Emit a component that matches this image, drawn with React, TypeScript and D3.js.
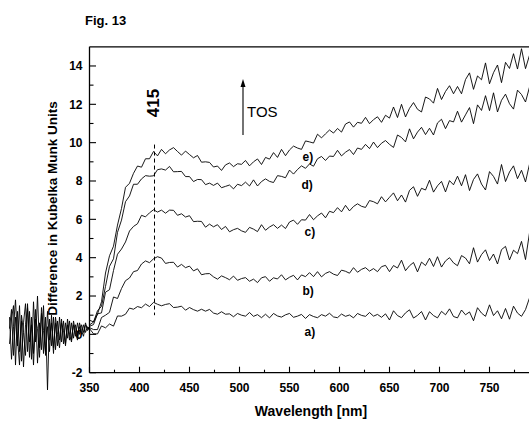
import React from "react";
import * as d3 from "d3";

// Wavelength grids (nm)
const wavelengths: number[] = d3.range(350, 791, 4);
const leftWavelengths: number[] = d3.range(270, 351, 2);

// Noisy baseline region below 350 nm (overlapping traces)
const leftNoiseA: number[] = [
  0.3, 1.3, -1.1, 0.9, -0.6, 1.5, -1.4, 0.6, 1.6, -0.9, 1.2, -1.3, 1.7, -0.4, 2.0, -0.7, 1.1, -1.0, 0.9, -2.9,
  0.8, -0.6, 0.9, -0.8, 0.7, -0.3, 0.8, -0.5, 0.6, -0.2, 0.7, -0.3, 0.5, -0.1, 0.6, 0.0, 0.5, 0.1, 0.6, 0.2, 0.4,
];
const leftNoiseB: number[] = [
  -0.5, 0.8, 1.5, -1.6, 1.2, -0.9, 0.7, -1.7, 0.5, 1.4, -1.2, 0.9, -1.0, 1.3, -1.5, 0.6, -0.8, 1.5, -1.1, 0.4,
  -0.9, 1.0, -0.7, 0.6, -0.6, 0.9, -0.4, 0.7, -0.5, 0.5, -0.3, 0.6, -0.2, 0.5, -0.1, 0.4, 0.0, 0.5, 0.1, 0.4, 0.2,
];
const leftNoiseC: number[] = [
  0.9, -1.3, 0.4, 1.8, -0.2, -1.6, 1.0, 0.1, -1.1, 1.6, -0.4, 0.5, -1.6, 0.8, 0.3, -1.2, 1.4, 0.2, -0.9, 1.2,
  -0.3, 0.6, -1.0, 0.9, 0.0, -0.7, 0.6, 0.2, -0.6, 0.8, 0.0, -0.4, 0.7, 0.1, -0.3, 0.6, 0.2, -0.1, 0.5, 0.3, 0.4,
];

// Spectra a)–e), 350–790 nm every 4 nm
const seriesE: number[] = [
  0.74, 0.65, 1.06, 1.7, 3.2, 4.1, 4.6, 5.7, 6.57, 7.67, 7.88, 8.4, 8.78, 8.72, 9.16, 9.16, 9.54, 9.31, 9.65, 9.42,
  9.62, 9.74, 9.54, 9.35, 9.56, 9.38, 9.21, 9.33, 8.98, 9.0, 8.97, 8.73, 8.78, 8.55, 8.84, 8.94, 8.75, 8.9, 8.87, 9.07,
  8.79, 9.0, 9.15, 8.86, 9.23, 9.14, 9.48, 9.23, 9.65, 9.32, 9.62, 9.82, 9.72, 9.65, 10.09, 10.04, 9.98, 10.44, 10.25, 10.46,
  10.66, 10.5, 10.74, 10.55, 10.97, 11.08, 10.81, 11.06, 11.01, 11.32, 10.99, 11.2, 11.35, 11.06, 11.43, 11.28, 11.86, 11.31, 12.0, 11.34,
  11.79, 12.09, 11.74, 11.6, 12.38, 12.28, 12.06, 12.83, 12.25, 12.67, 12.97, 12.55, 12.93, 12.55, 13.29, 13.64, 12.78, 13.48, 13.28, 14.16,
  13.07, 13.65, 14.05, 13.13, 14.19, 13.87, 14.64, 13.84, 14.9, 13.86, 14.56,
];
const seriesD: number[] = [
  0.49, 0.64, 1.23, 1.46, 2.5, 3.55, 3.94, 5.32, 5.96, 6.92, 7.22, 7.83, 7.83, 8.11, 8.28, 8.25, 8.27, 8.59, 8.63, 8.57,
  8.76, 8.48, 8.49, 8.5, 8.23, 8.23, 7.97, 8.08, 8.07, 7.81, 7.89, 7.77, 7.89, 7.65, 7.72, 7.79, 7.59, 7.83, 7.76, 7.94,
  7.74, 8.06, 7.74, 7.97, 8.11, 7.98, 7.92, 8.28, 8.24, 8.17, 8.57, 8.36, 8.6, 8.79, 8.66, 8.89, 8.77, 9.16, 9.28, 9.07,
  9.3, 9.28, 9.6, 9.31, 9.5, 9.64, 9.38, 9.72, 9.65, 9.91, 9.69, 10.03, 9.74, 9.97, 10.11, 9.91, 9.75, 10.4, 10.27, 10.04,
  10.72, 10.2, 10.55, 10.8, 10.42, 10.75, 10.4, 11.03, 11.22, 10.73, 11.15, 11.08, 11.64, 11.07, 11.45, 11.83, 10.99, 11.97, 11.68, 12.45,
  11.67, 12.6, 11.6, 12.21, 12.53, 12.03, 11.75, 12.74, 12.51, 12.12, 12.9,
];
const seriesC: number[] = [
  0.42, 0.51, 1.07, 1.12, 2.2, 2.33, 3.33, 4.18, 4.45, 4.82, 5.39, 5.63, 5.77, 6.21, 6.13, 6.34, 6.5, 6.38, 6.48, 6.32,
  6.48, 6.47, 6.21, 6.29, 6.12, 6.19, 5.88, 5.9, 5.89, 5.59, 5.75, 5.61, 5.72, 5.47, 5.63, 5.35, 5.46, 5.53, 5.4, 5.32,
  5.58, 5.49, 5.36, 5.72, 5.43, 5.6, 5.72, 5.53, 5.7, 5.52, 5.86, 5.96, 5.74, 5.98, 5.96, 6.25, 5.98, 6.18, 6.33, 6.08,
  6.42, 6.35, 6.61, 6.39, 6.73, 6.44, 6.67, 6.81, 6.68, 6.62, 6.98, 6.92, 6.81, 7.18, 6.91, 7.15, 7.38, 6.97, 7.27, 6.9,
  7.51, 7.7, 7.2, 7.62, 7.53, 8.04, 7.42, 7.75, 7.98, 7.43, 8.02, 7.8, 8.25, 7.75, 8.33, 7.5, 8.08, 8.37, 7.84, 7.53,
  8.49, 8.24, 7.84, 8.86, 7.97, 8.47, 8.79, 8.12, 8.56, 7.95, 8.88,
];
const seriesB: number[] = [
  0.35, 0.25, 0.25, 0.88, 1.0, 1.15, 1.95, 1.87, 2.39, 2.8, 2.94, 3.27, 3.33, 3.67, 3.83, 3.74, 3.94, 4.05, 3.98, 3.7,
  3.75, 3.76, 3.51, 3.65, 3.48, 3.56, 3.31, 3.42, 3.11, 3.16, 3.17, 3.0, 2.88, 3.05, 2.96, 2.85, 3.04, 2.82, 2.91, 2.96,
  2.77, 2.88, 2.7, 2.95, 3.01, 2.77, 2.95, 2.89, 3.11, 2.84, 2.98, 3.08, 2.84, 3.1, 3.01, 3.22, 3.01, 3.27, 3.0, 3.18,
  3.27, 3.14, 3.07, 3.35, 3.29, 3.19, 3.48, 3.24, 3.39, 3.48, 3.3, 3.43, 3.27, 3.53, 3.6, 3.27, 3.59, 3.46, 3.87, 3.32,
  3.58, 3.75, 3.26, 3.77, 3.59, 3.97, 3.54, 4.05, 3.51, 3.83, 4.0, 3.73, 3.58, 4.11, 3.98, 3.68, 4.52, 3.77, 4.16, 4.41,
  3.85, 4.19, 3.67, 4.42, 4.59, 3.88, 4.39, 4.21, 4.85, 3.9, 5.3,
];
const seriesA: number[] = [
  0.3, 0.03, 0.02, 0.44, 0.34, 0.54, 0.43, 0.96, 0.95, 1.05, 1.37, 1.31, 1.45, 1.39, 1.58, 1.45, 1.67, 1.57, 1.49, 1.56,
  1.6, 1.4, 1.42, 1.47, 1.26, 1.4, 1.29, 1.21, 1.31, 1.21, 1.3, 1.11, 1.05, 1.18, 1.05, 1.07, 0.92, 1.09, 1.0, 0.95,
  1.14, 0.94, 1.03, 0.87, 1.05, 0.86, 1.09, 0.96, 0.9, 1.02, 1.09, 0.89, 0.95, 1.04, 0.83, 1.03, 0.93, 0.87, 1.03, 0.95,
  1.1, 0.91, 0.87, 1.06, 0.94, 1.01, 0.86, 1.09, 0.99, 0.94, 1.14, 0.95, 1.04, 0.89, 1.07, 0.75, 1.23, 0.98, 0.87, 1.12,
  1.28, 0.85, 0.99, 1.19, 0.75, 1.18, 0.98, 0.86, 1.2, 1.02, 1.33, 0.93, 0.86, 1.27, 1.02, 1.17, 0.71, 1.39, 1.11, 0.94,
  1.54, 0.98, 1.23, 0.81, 1.35, 0.79, 1.47, 1.11, 0.94, 1.29, 1.9,
];

const curveLabels: string[] = ["a)", "b)", "c)", "d)", "e)"];
const labelAnchor: [number, number][] = [
  [565, -0.08],
  [563, 2.05],
  [565, 5.13],
  [562, 7.58],
  [563, 9.04],
];

const xMajorTicks: number[] = [350, 400, 450, 500, 550, 600, 650, 700, 750];
const xMinorTicks: number[] = [375, 425, 475, 525, 575, 625, 675, 725, 775];
const yMajorTicks: number[] = [-2, 0, 2, 4, 6, 8, 10, 12, 14];
const yMinorTicks: number[] = [-1, 1, 3, 5, 7, 9, 11, 13];

const peakWavelength = 415;

export default function App() {
  const W = 529;
  const H = 421;
  const x = d3.scaleLinear().domain([350, 800]).range([89.5, 539.5]);
  const y = d3.scaleLinear().domain([-2, 15]).range([372.7, 46.8]);
  const line = d3
    .line<[number, number]>()
    .x((d) => x(d[0]))
    .y((d) => y(d[1]));
  const series = [seriesA, seriesB, seriesC, seriesD, seriesE];
  const font = "'Liberation Sans', Arial, sans-serif";
  const x0 = x(350);
  const y0 = y(-2);
  const yTop = y(15);

  return (
    <svg
      width={W}
      height={H}
      style={{ position: "absolute", left: 0, top: 0, background: "#fff" }}
      fontFamily={font}
    >
      <rect width={W} height={H} fill="#fff" />
      {/* left noisy region */}
      {[leftNoiseA, leftNoiseB, leftNoiseC].map((arr, i) => (
        <path
          key={"ln" + i}
          d={line(leftWavelengths.map((w, k) => [w, arr[k]] as [number, number])) || ""}
          fill="none"
          stroke="#000"
          strokeWidth={0.9}
        />
      ))}
      {series.map((arr, i) => (
        <path
          key={"s" + i}
          d={line(wavelengths.map((w, k) => [w, arr[k]] as [number, number])) || ""}
          fill="none"
          stroke="#000"
          strokeWidth={0.9}
          strokeLinejoin="round"
        />
      ))}
      {/* frame */}
      <line x1={x0} x2={x0} y1={yTop} y2={y0} stroke="#000" strokeWidth={1.3} />
      <line x1={x0} x2={W} y1={y0} y2={y0} stroke="#000" strokeWidth={1.3} />
      <line x1={x0} x2={W} y1={yTop} y2={yTop} stroke="#000" strokeWidth={1.3} />
      {/* x ticks */}
      {xMajorTicks.map((t) => (
        <g key={"xt" + t}>
          <line x1={x(t)} x2={x(t)} y1={y0} y2={y0 - 6} stroke="#000" strokeWidth={1.1} />
          <text x={x(t)} y={392} textAnchor="middle" fontSize={12} fontWeight="bold">
            {t}
          </text>
        </g>
      ))}
      {xMinorTicks.map((t) => (
        <line key={"xm" + t} x1={x(t)} x2={x(t)} y1={y0} y2={y0 - 3} stroke="#000" strokeWidth={1.1} />
      ))}
      {/* y ticks */}
      {yMajorTicks.map((t) => (
        <g key={"yt" + t}>
          <line x1={x0} x2={x0 + 6.5} y1={y(t)} y2={y(t)} stroke="#000" strokeWidth={1.1} />
          <text x={82.5} y={y(t) + 4.2} textAnchor="end" fontSize={12} fontWeight="bold">
            {t}
          </text>
        </g>
      ))}
      {yMinorTicks.map((t) => (
        <line key={"ym" + t} x1={x0} x2={x0 + 4} y1={y(t)} y2={y(t)} stroke="#000" strokeWidth={1.1} />
      ))}
      {/* dashed 415 marker */}
      <line
        x1={x(peakWavelength)}
        x2={x(peakWavelength)}
        y1={y(9.9)}
        y2={y(1.0)}
        stroke="#000"
        strokeWidth={1}
        strokeDasharray="4,3"
      />
      <text
        transform={`translate(${x(peakWavelength) + 4.5},${103}) rotate(-90)`}
        textAnchor="middle"
        fontSize={17}
        fontWeight="bold"
      >
        {peakWavelength}
      </text>
      {/* TOS arrow */}
      <line x1={243} x2={243} y1={135} y2={84} stroke="#000" strokeWidth={1.1} />
      <path d="M243,79 L240.5,87 L245.5,87 Z" fill="#000" />
      <text x={247} y={117} fontSize={15}>
        TOS
      </text>
      {/* curve labels */}
      {curveLabels.map((lab, i) => (
        <text
          key={lab}
          x={x(labelAnchor[i][0])}
          y={y(labelAnchor[i][1])}
          fontSize={12}
          fontWeight="bold"
        >
          {lab}
        </text>
      ))}
      {/* titles */}
      <text x={85} y={25} fontSize={13} fontWeight="bold">
        Fig. 13
      </text>
      <text x={311} y={416} textAnchor="middle" fontSize={14} fontWeight="bold">
        Wavelength [nm]
      </text>
      <text
        transform={`translate(57,208.5) rotate(-90)`}
        textAnchor="middle"
        fontSize={13.5}
        fontWeight="bold"
      >
        Difference in Kubelka Munk Units
      </text>
    </svg>
  );
}
